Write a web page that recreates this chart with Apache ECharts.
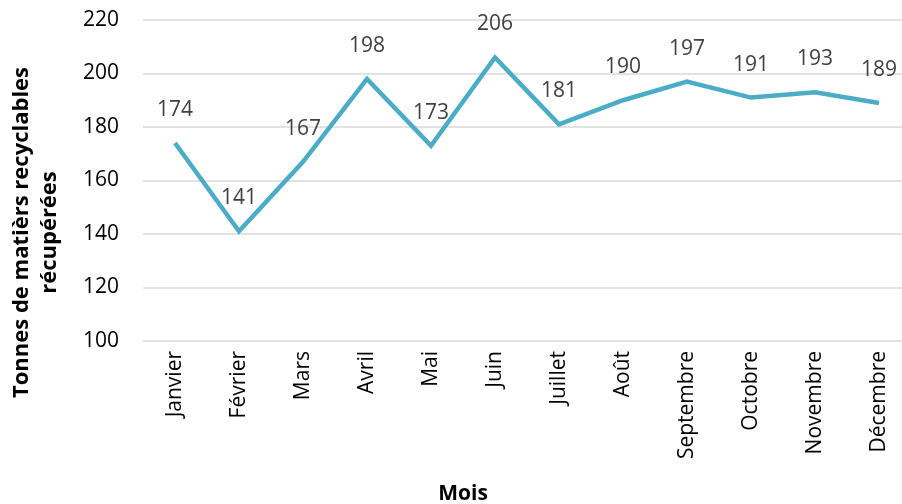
<!DOCTYPE html>
<html>
<head>
<meta charset="utf-8">
<script src="https://cdn.jsdelivr.net/npm/echarts@6/dist/echarts.min.js"></script>
<style>
  html, body { margin: 0; padding: 0; background: #fff; }
  #chart { width: 902px; height: 504px; }
</style>
</head>
<body>
<div id="chart"></div>
<script>
// Données
const mois = ['Janvier', 'Février', 'Mars', 'Avril', 'Mai', 'Juin', 'Juillet', 'Août', 'Septembre', 'Octobre', 'Novembre', 'Décembre'];
const tonnes = [174, 141, 167, 198, 173, 206, 181, 190, 197, 191, 193, 189];

const police = '"Open Sans", "Noto Sans", sans-serif';

let chart = echarts.init(document.getElementById('chart'));

let option = {
    animation: false,
    grid: { left: 143, right: -9, top: 20, bottom: 163, outerBoundsMode: 'none' },
    xAxis: {
        type: 'category',
        data: mois,
        boundaryGap: true,
        name: 'Mois',
        nameLocation: 'middle',
        nameGap: 143,
        nameTextStyle: { fontFamily: police, fontSize: 21, fontWeight: 'bold', color: '#000', padding: [0, 128, 0, 0] },
        axisLine: { show: false },
        axisTick: { show: false },
        axisLabel: { rotate: 90, margin: 10, fontFamily: police, fontSize: 21, color: '#000' }
    },
    yAxis: {
        type: 'value',
        min: 100,
        max: 220,
        interval: 20,
        name: 'Tonnes de matièrs recyclables\nrécupérées',
        nameLocation: 'middle',
        nameGap: 79,
        nameRotate: 90,
        nameTextStyle: { fontFamily: police, fontSize: 22, fontWeight: 'bold', color: '#000', lineHeight: 28, padding: [0, 104, 0, 0] },
        axisLine: { show: false },
        axisTick: { show: false },
        axisLabel: { margin: 24, fontFamily: police, fontSize: 21, color: '#000' },
        splitLine: { lineStyle: { color: '#d9d9d9', width: 1.5 } }
    },
    series: [{
        type: 'line',
        data: tonnes,
        symbol: 'circle',
        symbolSize: 1,
        showSymbol: true,
        itemStyle: { color: 'rgba(0,0,0,0)' },
        lineStyle: { color: '#4bacc6', width: 4.5, join: 'miter' },
        label: {
            show: true,
            position: 'top',
            distance: 22,
            fontFamily: police,
            fontSize: 21,
            color: '#404040'
        }
    }]
};

chart.setOption(option);
</script>
</body>
</html>
